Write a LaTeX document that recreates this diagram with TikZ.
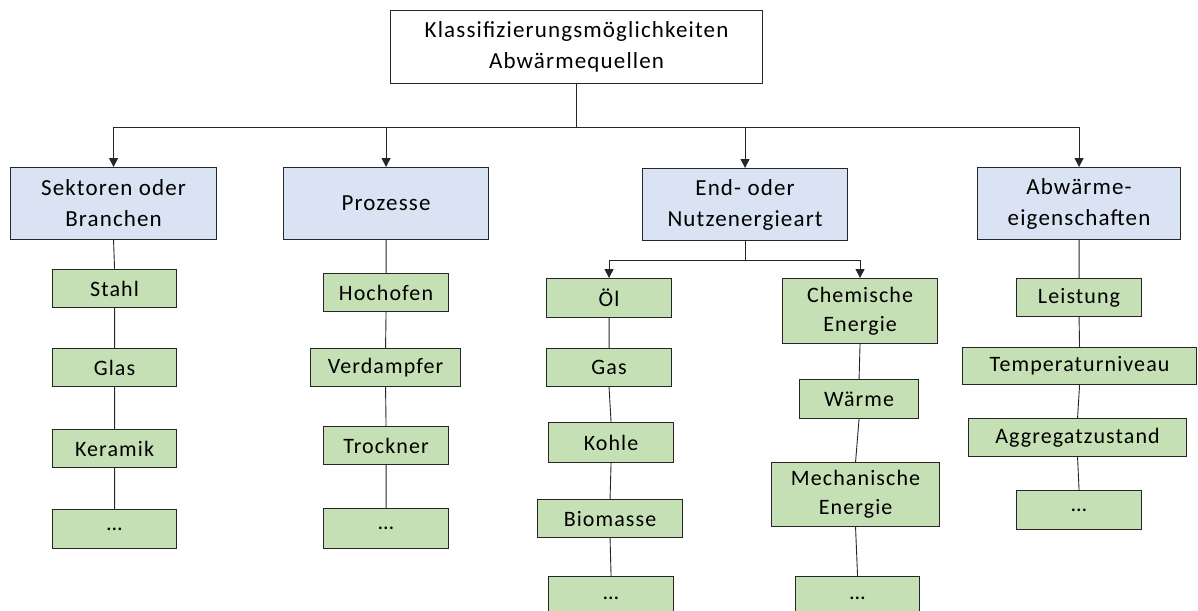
\documentclass[tikz,border=0pt]{standalone}
\usepackage{fontspec}
\setmainfont{Carlito}[LetterSpace=5]
\usetikzlibrary{arrows.meta}
\definecolor{catblue}{HTML}{DAE3F3}
\definecolor{leafgreen}{HTML}{C5E0B4}
\begin{document}
\begin{tikzpicture}[x=1pt,y=-1pt,
 box/.style={draw=black!85, line width=1.1pt, anchor=north west, inner sep=0pt, align=center},
 topbox/.style={box, fill=white, font=\fontsize{23}{31}\selectfont},
 catbox/.style={box, fill=catblue, font=\fontsize{23}{31}\selectfont},
 leaf/.style={box, fill=leafgreen, font=\fontsize{22}{29}\selectfont},
 link/.style={draw=black!85, line width=0.9pt},
 arr/.style={link, -{Triangle[length=9pt,width=9pt]}}]
\path[use as bounding box] (0,0) rectangle (1198,610);
\clip (0,0) rectangle (1198,610);

\node[topbox, minimum width=372, minimum height=73] (top) at (390,10) {Klassifizierungsmöglichkeiten\\Abwärmequellen};

\node[catbox, minimum width=206, minimum height=72] (c1) at (10,167) {Sektoren oder\\Branchen};
\node[catbox, minimum width=205, minimum height=72] (c2) at (283,167) {Prozesse};
\node[catbox, minimum width=205, minimum height=72] (c3) at (642,168) {End- oder\\Nutzenergieart};
\node[catbox, minimum width=203, minimum height=72] (c4) at (977,167) {Abwärme-\\eigenschaften};

% column 1
\node[leaf, minimum width=124, minimum height=38] (stahl) at (52,269) {Stahl};
\node[leaf, minimum width=124, minimum height=38] (glas) at (52,348) {Glas};
\node[leaf, minimum width=124, minimum height=38] (keramik) at (52,429) {Keramik};
\node[leaf, minimum width=124, minimum height=39] (d1) at (52,509) {…};

% column 2
\node[leaf, minimum width=125, minimum height=38] (hochofen) at (323,273) {Hochofen};
\node[leaf, minimum width=150, minimum height=38] (verdampfer) at (310,348) {Verdampfer};
\node[leaf, minimum width=125, minimum height=38] (trockner) at (323,426) {Trockner};
\node[leaf, minimum width=125, minimum height=40] (d2) at (323,508) {…};

% column 3a
\node[leaf, minimum width=125, minimum height=39] (oel) at (546,278) {Öl};
\node[leaf, minimum width=125, minimum height=38] (gas) at (546,348) {Gas};
\node[leaf, minimum width=125, minimum height=40] (kohle) at (548,422) {Kohle};
\node[leaf, minimum width=145, minimum height=38] (biomasse) at (537,499) {Biomasse};
\node[leaf, minimum width=125, minimum height=44] (d3) at (548,576) {…};

% column 3b
\node[leaf, minimum width=155, minimum height=65] (chem) at (782,278) {Chemische\\Energie};
\node[leaf, minimum width=119, minimum height=39] (waerme) at (799,379) {Wärme};
\node[leaf, minimum width=168, minimum height=64] (mech) at (771,462) {Mechanische\\Energie};
\node[leaf, minimum width=124, minimum height=44] (d4) at (795,576) {…};

% column 4
\node[leaf, minimum width=125, minimum height=38] (leistung) at (1016,278) {Leistung};
\node[leaf, minimum width=234, minimum height=37] (temp) at (962,347) {Temperaturniveau};
\node[leaf, minimum width=218, minimum height=38] (aggr) at (968,418) {Aggregatzustand};
\node[leaf, minimum width=125, minimum height=39] (d5) at (1016,490) {…};

% top connectors
\coordinate (bus) at ([yshift=-43pt]top.south);
\draw[link, line width=1.8pt] (top.south) -- (bus);
\foreach \c in {c1,c2,c3,c4} \draw[arr] (bus) -| (\c.north);

% end/nutzenergie connectors
\coordinate (ebus) at ([yshift=-19pt]c3.south);
\draw[link] (c3.south) -- (ebus);
\draw[arr] (ebus) -| (oel.north);
\draw[arr] (ebus) -| (chem.north);

% column lines
\draw[link] (c1.south) -- (stahl.north) (stahl.south) -- (glas.north) (glas.south) -- (keramik.north) (keramik.south) -- (d1.north);
\draw[link] (c2.south) -- (hochofen.north) (hochofen.south) -- (verdampfer.north) (verdampfer.south) -- (trockner.north) (trockner.south) -- (d2.north);
\draw[link] (oel.south) -- (gas.north) (gas.south) -- (kohle.north) (kohle.south) -- (biomasse.north) (biomasse.south) -- (d3.north);
\draw[link] (chem.south) -- (waerme.north) (waerme.south) -- (mech.north) (mech.south) -- (d4.north);
\draw[link] (c4.south) -- (leistung.north) (leistung.south) -- (temp.north) (temp.south) -- (aggr.north) (aggr.south) -- (d5.north);
\end{tikzpicture}
\end{document}
